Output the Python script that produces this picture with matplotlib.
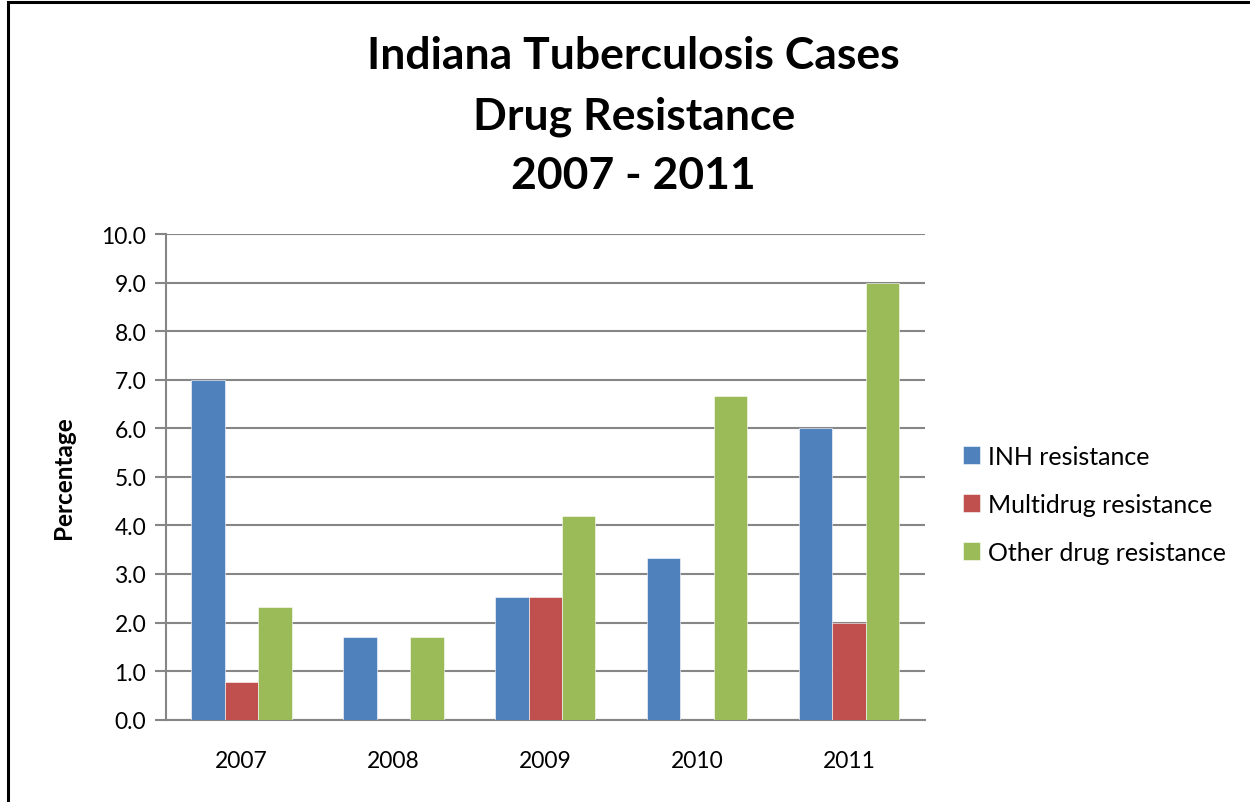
import matplotlib
matplotlib.use("Agg")
import matplotlib.pyplot as plt
from matplotlib.patches import Rectangle
import numpy as np

years = ["2007", "2008", "2009", "2010", "2011"]
inh = [7.0, 1.7, 2.53, 3.33, 6.0]
multidrug = [0.77, 0.0, 2.53, 0.0, 2.0]
other = [2.33, 1.7, 4.2, 6.67, 9.0]
series_names = ["INH resistance", "Multidrug resistance", "Other drug resistance"]
colors = ["#4F81BD", "#C0504D", "#9BBB59"]
y_ticks = [0, 1, 2, 3, 4, 5, 6, 7, 8, 9, 10]

plt.rcParams["font.family"] = ["Lato", "DejaVu Sans"]

fig = plt.figure(figsize=(12.5, 8.03), dpi=100)
ax = fig.add_axes([0.1325, 0.1025, 0.6075, 0.6048])

# outer chart frame (top and left edges visible)
fig.patches.append(Rectangle((8 / 1250, -0.05), 1.2, 1 - 3 / 803 + 0.05,
                             transform=fig.transFigure, fill=False,
                             edgecolor="black", linewidth=2.2, zorder=0))

x = np.arange(len(years))
w = 0.22
for i, (vals, c, name) in enumerate(zip([inh, multidrug, other], colors, series_names)):
    ax.bar(x + (i - 1) * w, vals, width=w, color=c, label=name, zorder=3,
           edgecolor="white", linewidth=0.4)

ax.set_xlim(-0.5, len(years) - 0.5)
ax.set_ylim(0, 10)
ax.set_yticks(y_ticks)
ax.set_yticklabels([f"{v:.1f}" for v in y_ticks], fontsize=16.5)
ax.set_xticks(x)
ax.set_xticklabels(years, fontsize=16.5)
ax.tick_params(axis="x", length=0, pad=22)
ax.tick_params(axis="y", length=8, width=1.5, color="#868686", pad=6)

ax.grid(axis="y", color="#868686", linewidth=1.5, zorder=0)
ax.set_axisbelow(True)
for s in ["top", "right"]:
    ax.spines[s].set_visible(False)
for s in ["left", "bottom"]:
    ax.spines[s].set_color("#868686")
    ax.spines[s].set_linewidth(1.5)

ax.set_ylabel("Percentage", fontsize=17.5, fontweight="bold", labelpad=19)

fig.text(0.507, 0.855, "Indiana Tuberculosis Cases\nDrug Resistance\n2007 - 2011",
         ha="center", va="center", fontsize=32, fontweight="bold",
         linespacing=1.6)

ax.legend(loc="center left", bbox_to_anchor=(1.02, 0.444), frameon=False,
          fontsize=18, handlelength=0.7, handleheight=0.7,
          handletextpad=0.3, labelspacing=1.0)

fig.savefig("out.png", dpi=100)
